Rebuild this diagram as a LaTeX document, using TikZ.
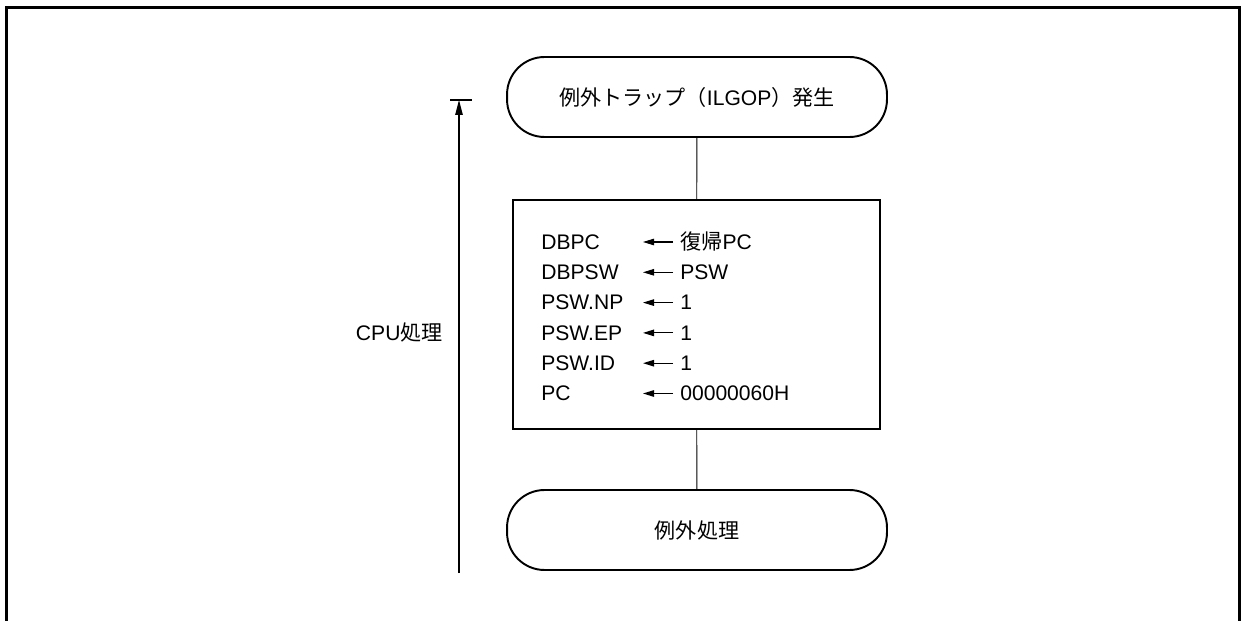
\documentclass[tikz,border=0pt]{standalone}
\usepackage{fontspec}
\setmainfont{Liberation Sans}
\newfontfamily\jp{Noto Sans CJK JP}
\usetikzlibrary{arrows.meta}
\newcommand{\fukki}{{\jp 復帰}PC}
\begin{document}
\begin{tikzpicture}[x=0.02cm,y=-0.02cm, font=\fontsize{12}{14}\selectfont,
	term/.style={draw, line width=1.1pt, rounded corners=0.75cm, minimum width=7.6cm, minimum height=1.6cm},
	procbox/.style={draw, line width=1.1pt, minimum width=7.34cm, minimum height=4.58cm},
	row/.style={inner sep=0pt, anchor=west}]
	\useasboundingbox (0,0) rectangle (1241,621);
	% frame
	\draw[line width=1.5pt] (6.5,630) -- (6.5,7.5) -- (1239.5,7.5) -- (1239.5,630);
	% flow
	\node[term] (start) at (697,97) {{\jp 例外トラップ（}ILGOP{\jp ）発生}};
	\node[procbox] (proc) at (696.5,314.5) {};
	\node[term] (end) at (697,530) {{\jp 例外処理}};
	\draw[line width=0.5pt] (start) -- (proc);
	\draw[line width=0.5pt] (proc) -- (end);
	% register assignments
	\foreach \l/\r [count=\i from 0] in {DBPC/\fukki, DBPSW/PSW, PSW.NP/1, PSW.EP/1, PSW.ID/1, PC/00000060H} {
		\node[row] (l\i) at (541,242+30.3*\i) {\l};
		\coordinate (a\i) at (673,242+30.3*\i);
		\coordinate (b\i) at (643,242+30.3*\i);
		\draw[line width=0.6pt, -{Triangle[length=0.22cm, width=0.13cm]}] (a\i) -- (b\i);
		\node[row] (r\i) at (680,242+30.3*\i) {\r};
	}
	% CPU side arrow
	\coordinate (cpubot) at (459,573);
	\coordinate (cputop) at (459,100);
	\draw[line width=0.6pt, -{Triangle[length=0.3cm, width=0.15cm]}] (cpubot) -- (cputop);
	\draw[line width=0.6pt] (450,100) -- (472,100);
	\node[inner sep=0pt, anchor=east] (cpu) at (443,333) {CPU{\jp 処理}};
\end{tikzpicture}
\end{document}
